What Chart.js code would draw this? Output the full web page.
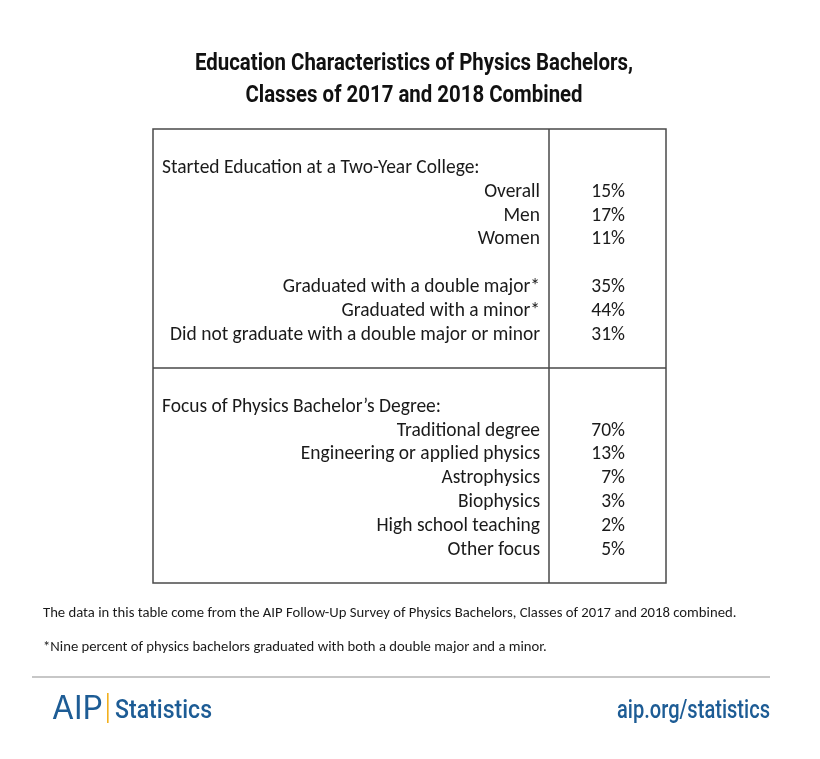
<!DOCTYPE html>
<html>
<head>
<meta charset="utf-8">
<script src="https://cdn.jsdelivr.net/npm/chart.js@4.4.1/dist/chart.umd.min.js"></script>
<style>
  html, body { margin: 0; padding: 0; background: #ffffff; }
  #wrap { position: relative; width: 820px; height: 759px; }
</style>
</head>
<body>
<div id="wrap"><canvas id="c"></canvas></div>
<script>
// ---- Data ----
const titleLines = ['Education Characteristics of Physics Bachelors,', 'Classes of 2017 and 2018 Combined'];
const collegeHeader = 'Started Education at a Two-Year College:';
const collegeLabels = ['Overall', 'Men', 'Women'];
const collegeValues = [15, 17, 11];
const majorLabels = ['Graduated with a double major*', 'Graduated with a minor*', 'Did not graduate with a double major or minor'];
const majorValues = [35, 44, 31];
const focusHeader = 'Focus of Physics Bachelor\u2019s Degree:';
const focusLabels = ['Traditional degree', 'Engineering or applied physics', 'Astrophysics', 'Biophysics', 'High school teaching', 'Other focus'];
const focusValues = [70, 13, 7, 3, 2, 5];
const footnotes = [
  'The data in this table come from the AIP Follow-Up Survey of Physics Bachelors, Classes of 2017 and 2018 combined.',
  '*Nine percent of physics bachelors graduated with both a double major and a minor.'
];

// ---- Build row table (slots) ----
const rows = [];
function add(type, label, value) { rows.push({ type, label: label || '', value: value == null ? null : value, key: 'r' + rows.length }); }
add('space');
add('header', collegeHeader);
collegeLabels.forEach((l, i) => add('item', l, collegeValues[i]));
add('space');
majorLabels.forEach((l, i) => add('item', l, majorValues[i]));
add('sep');      // separator drawn below this slot
add('space');
add('header', focusHeader);
focusLabels.forEach((l, i) => add('item', l, focusValues[i]));
add('space');

const BODY_FONT = 'Carlito, Lato, "Open Sans", sans-serif';
const TITLE_FONT = '"Liberation Sans Narrow", Roboto, sans-serif';
const BLUE = '#1d5c95';

function fitFont(ctx, text, family, weight, targetW, base) {
  ctx.font = weight + ' ' + base + 'px ' + family;
  const w = ctx.measureText(text).width;
  return base * targetW / w;
}
function drawScaledX(ctx, text, x, y, align, font, sx, color) {
  ctx.save();
  ctx.font = font;
  ctx.fillStyle = color;
  ctx.textAlign = align;
  ctx.textBaseline = 'alphabetic';
  ctx.translate(x, y);
  ctx.scale(sx, 1);
  ctx.fillText(text, 0, 0);
  ctx.restore();
}

const tablePlugin = {
  id: 'tablePlugin',
  afterDraw(chart) {
    const ctx = chart.ctx;
    const area = chart.chartArea;
    const yScale = chart.scales.y;
    const meta = chart.getDatasetMeta(0);
    const divX = area.left + 396;

    // Title (condensed bold)
    ctx.save();
    const tf = 'bold 23px ' + TITLE_FONT;
    ctx.font = tf;
    const tw = ctx.measureText(titleLines[0]).width;
    const tsx = 438 / tw;
    drawScaledX(ctx, titleLines[0], 414, 70, 'center', tf, tsx, '#111');
    drawScaledX(ctx, titleLines[1], 414, 102, 'center', tf, tsx, '#111');
    ctx.restore();

    // Table border
    ctx.save();
    ctx.strokeStyle = '#4a4a4a';
    ctx.lineWidth = 1.5;
    ctx.strokeRect(area.left, area.top, area.right - area.left, area.bottom - area.top);
    ctx.beginPath();
    ctx.moveTo(divX, area.top);
    ctx.lineTo(divX, area.bottom);
    rows.forEach((r, i) => {
      if (r.type === 'sep') {
        const yb = (yScale.getPixelForValue(i) + yScale.getPixelForValue(i + 1)) / 2;
        ctx.moveTo(area.left, yb);
        ctx.lineTo(area.right, yb);
      }
    });
    ctx.stroke();
    ctx.restore();

    // Row text
    ctx.save();
    const longest = majorLabels[2];
    const fs = fitFont(ctx, longest, BODY_FONT, 'normal', 370, 17);
    ctx.font = fs + 'px ' + BODY_FONT;
    ctx.fillStyle = '#1a1a1a';
    ctx.textBaseline = 'middle';
    rows.forEach((r, i) => {
      const y = yScale.getPixelForValue(i) + 3;
      if (r.type === 'header') {
        ctx.textAlign = 'left';
        ctx.fillText(r.label, area.left + 9, y);
      } else if (r.type === 'item') {
        ctx.textAlign = 'right';
        ctx.fillText(r.label, divX - 9, y);
        const el = meta.data[i];
        ctx.fillText(r.value + '%', area.right - 41, el ? el.y + 3 : y);
      }
    });
    ctx.restore();

    // Footnotes
    ctx.save();
    const ff = fitFont(ctx, footnotes[0], BODY_FONT, 'normal', 694, 13.5);
    ctx.font = ff + 'px ' + BODY_FONT;
    ctx.fillStyle = '#1a1a1a';
    ctx.textAlign = 'left';
    ctx.textBaseline = 'alphabetic';
    ctx.fillText(footnotes[0], 43, 617);
    ctx.fillText(footnotes[1], 43, 651);
    ctx.restore();

    // Footer rule
    ctx.save();
    ctx.strokeStyle = '#b5b5b5';
    ctx.lineWidth = 1.5;
    ctx.beginPath();
    ctx.moveTo(32, 677);
    ctx.lineTo(770, 677);
    ctx.stroke();
    ctx.restore();

    // Logo
    ctx.save();
    const af = '400 32px Inter, sans-serif';
    ctx.font = af;
    const asx = 51 / ctx.measureText('AIP').width;
    drawScaledX(ctx, 'AIP', 52, 719, 'left', af, asx, BLUE);
    ctx.fillStyle = '#f2b01e';
    ctx.fillRect(107, 693, 1.6, 30);
    const sf = '500 26px ' + TITLE_FONT;
    ctx.font = sf;
    const ssx = 97 / ctx.measureText('Statistics').width;
    drawScaledX(ctx, 'Statistics', 115, 718, 'left', sf, ssx, BLUE);
    ctx.font = sf;
    const usx = 153 / ctx.measureText('aip.org/statistics').width;
    drawScaledX(ctx, 'aip.org/statistics', 770, 718, 'right', sf, usx, BLUE);
    ctx.restore();
  }
};

new Chart(document.getElementById('c'), {
  type: 'bar',
  data: {
    labels: rows.map(r => r.key),
    datasets: [{
      data: rows.map(r => r.value),
      backgroundColor: 'rgba(0,0,0,0)',
      borderWidth: 0
    }]
  },
  options: {
    indexAxis: 'y',
    responsive: true,
    maintainAspectRatio: false,
    animation: false,
    events: [],
    layout: { padding: { left: 153, right: 154, top: 129, bottom: 176 } },
    plugins: { legend: { display: false }, title: { display: false }, tooltip: { enabled: false } },
    scales: {
      x: { display: false, min: 0, max: 100 },
      y: { display: false, offset: true, grid: { display: false } }
    }
  },
  plugins: [tablePlugin]
});
</script>
</body>
</html>
